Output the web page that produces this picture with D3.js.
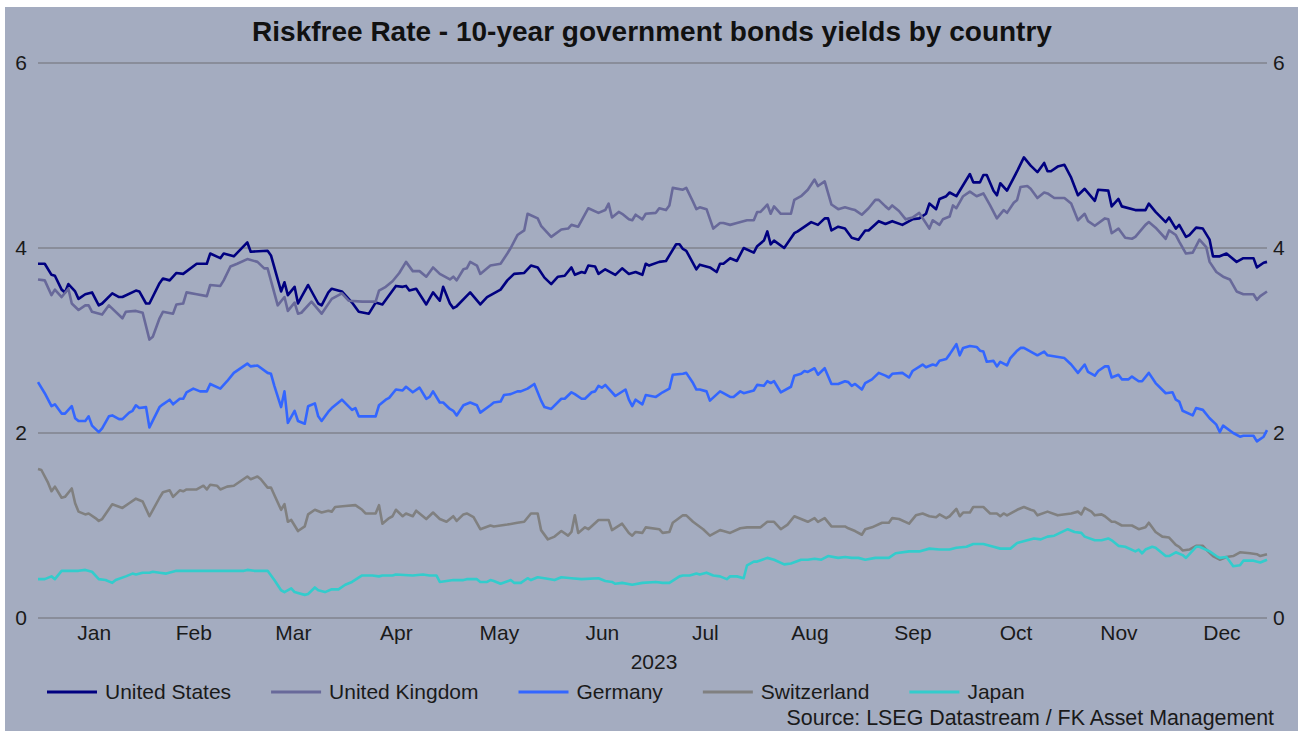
<!DOCTYPE html>
<html><head><meta charset="utf-8">
<script src="https://cdn.jsdelivr.net/npm/d3@7"></script>
<style>html,body{margin:0;padding:0;background:#fff;} svg{display:block;font-family:"Liberation Sans",Arial,sans-serif;}</style>
</head><body><svg id="c" width="1298" height="731"></svg>
<script>
const title = "Riskfree Rate - 10-year government bonds yields by country";
const sourceText = "Source: LSEG Datastream / FK Asset Management";
const seriesNames = ["United States","United Kingdom","Germany","Switzerland","Japan"];
const seriesColors = ["#000080","#68699a","#3366ff","#808080","#33cccc"];
const yTicks = [0,2,4,6];
const monthLabels = ["Jan","Feb","Mar","Apr","May","Jun","Jul","Aug","Sep","Oct","Nov","Dec"];
const yearLabel = "2023";
// [day of year 2023 (Jan 1 = 1), yield %]
const usData = [[0,3.83],[2,3.83],[4,3.71],[5,3.70],[7,3.55],[8,3.52],[9,3.61],[11,3.53],[12,3.45],[14,3.50],[16,3.52],[18,3.38],[19,3.40],[22,3.51],[24,3.47],[25,3.47],[29,3.54],[30,3.53],[32,3.40],[33,3.40],[36,3.62],[37,3.67],[39,3.65],[41,3.73],[43,3.72],[47,3.83],[50,3.83],[51,3.94],[54,3.89],[55,3.94],[58,3.91],[62,4.06],[63,3.96],[68,3.97],[69,3.92],[72,3.53],[73,3.63],[74,3.49],[76,3.58],[77,3.40],[78,3.47],[80,3.60],[83,3.40],[84,3.38],[86,3.52],[87,3.56],[90,3.53],[93,3.41],[95,3.31],[98,3.29],[100,3.41],[102,3.39],[106,3.59],[108,3.58],[109,3.59],[110,3.54],[112,3.56],[115,3.39],[117,3.52],[119,3.43],[120,3.58],[122,3.40],[123,3.35],[124,3.37],[128,3.52],[131,3.39],[133,3.47],[137,3.55],[139,3.65],[141,3.72],[144,3.73],[146,3.81],[148,3.79],[150,3.68],[152,3.61],[154,3.69],[156,3.70],[158,3.79],[159,3.71],[161,3.74],[162,3.73],[163,3.81],[165,3.80],[166,3.72],[168,3.77],[171,3.71],[173,3.78],[175,3.72],[177,3.74],[179,3.71],[180,3.83],[181,3.81],[184,3.85],[186,3.86],[187,3.92],[189,4.04],[190,4.04],[191,3.99],[192,3.97],[195,3.77],[196,3.82],[199,3.79],[201,3.74],[202,3.83],[203,3.83],[205,3.89],[207,3.86],[209,4.00],[212,3.95],[213,4.02],[215,4.08],[216,4.18],[217,4.04],[218,4.08],[221,4.00],[224,4.16],[225,4.18],[229,4.28],[231,4.25],[233,4.32],[234,4.32],[235,4.19],[237,4.23],[239,4.21],[241,4.11],[243,4.09],[245,4.19],[246,4.19],[249,4.29],[251,4.26],[253,4.29],[256,4.25],[259,4.31],[261,4.32],[263,4.37],[264,4.48],[266,4.42],[267,4.53],[269,4.56],[270,4.60],[272,4.56],[276,4.80],[277,4.71],[279,4.71],[280,4.79],[281,4.79],[283,4.62],[284,4.57],[285,4.70],[287,4.62],[290,4.83],[292,4.98],[294,4.89],[296,4.82],[298,4.92],[299,4.83],[300,4.83],[302,4.88],[304,4.90],[306,4.76],[308,4.57],[310,4.64],[313,4.51],[314,4.63],[317,4.62],[318,4.45],[320,4.53],[321,4.45],[325,4.41],[328,4.41],[329,4.48],[331,4.39],[334,4.28],[335,4.33],[337,4.21],[338,4.25],[340,4.12],[341,4.14],[343,4.22],[345,4.21],[347,4.09],[348,3.91],[350,3.91],[352,3.94],[355,3.85],[357,3.89],[360,3.89],[361,3.79],[363,3.84],[364,3.85]];
const ukData = [[0,3.66],[2,3.65],[4,3.49],[5,3.55],[7,3.47],[9,3.56],[10,3.40],[12,3.33],[14,3.38],[15,3.38],[16,3.31],[19,3.28],[21,3.38],[25,3.24],[26,3.31],[29,3.32],[31,3.30],[33,3.01],[34,3.04],[36,3.24],[37,3.31],[40,3.29],[41,3.39],[43,3.40],[44,3.52],[47,3.50],[50,3.48],[51,3.60],[54,3.59],[55,3.65],[57,3.80],[59,3.83],[62,3.88],[65,3.85],[67,3.78],[68,3.78],[71,3.38],[73,3.47],[74,3.32],[76,3.41],[77,3.29],[78,3.30],[81,3.42],[84,3.29],[87,3.45],[90,3.51],[92,3.43],[96,3.42],[100,3.42],[101,3.54],[103,3.58],[105,3.64],[107,3.73],[109,3.85],[111,3.75],[113,3.75],[115,3.69],[117,3.79],[119,3.72],[122,3.66],[123,3.69],[124,3.65],[126,3.77],[127,3.78],[128,3.85],[130,3.81],[131,3.72],[134,3.81],[137,3.83],[139,3.94],[140,4.00],[142,4.14],[144,4.19],[145,4.37],[148,4.32],[149,4.24],[152,4.12],[155,4.20],[157,4.21],[158,4.25],[160,4.23],[163,4.43],[166,4.38],[168,4.41],[169,4.48],[170,4.33],[172,4.39],[173,4.37],[175,4.31],[176,4.30],[177,4.36],[179,4.31],[180,4.37],[183,4.38],[184,4.43],[186,4.41],[187,4.46],[188,4.65],[191,4.63],[192,4.65],[194,4.50],[195,4.42],[196,4.44],[198,4.42],[200,4.21],[202,4.27],[203,4.27],[205,4.25],[207,4.27],[210,4.30],[212,4.30],[213,4.39],[214,4.39],[216,4.47],[217,4.37],[218,4.45],[220,4.37],[223,4.37],[224,4.52],[226,4.56],[228,4.63],[230,4.74],[231,4.67],[233,4.72],[235,4.47],[237,4.42],[239,4.44],[241,4.42],[242,4.41],[244,4.36],[246,4.43],[248,4.52],[249,4.52],[251,4.45],[252,4.42],[253,4.46],[255,4.40],[257,4.31],[259,4.33],[261,4.38],[264,4.21],[265,4.30],[267,4.25],[268,4.31],[270,4.34],[271,4.46],[272,4.43],[274,4.56],[276,4.61],[278,4.56],[280,4.59],[282,4.46],[284,4.32],[286,4.41],[287,4.38],[289,4.49],[290,4.52],[291,4.66],[293,4.67],[294,4.64],[296,4.54],[298,4.60],[299,4.59],[301,4.54],[304,4.54],[306,4.48],[308,4.30],[310,4.37],[311,4.29],[313,4.24],[316,4.32],[317,4.31],[318,4.16],[320,4.21],[322,4.11],[324,4.10],[325,4.12],[328,4.25],[329,4.28],[331,4.22],[334,4.10],[335,4.19],[337,4.14],[338,4.07],[340,3.94],[342,3.95],[344,4.09],[346,4.01],[347,3.85],[349,3.74],[351,3.69],[353,3.66],[355,3.53],[357,3.50],[360,3.50],[361,3.44],[362,3.48],[364,3.53]];
const deData = [[0,2.55],[2,2.43],[4,2.29],[5,2.31],[7,2.21],[8,2.21],[10,2.29],[11,2.16],[12,2.13],[14,2.13],[15,2.18],[16,2.08],[18,2.01],[19,2.05],[21,2.18],[22,2.19],[24,2.15],[25,2.15],[27,2.22],[28,2.24],[29,2.30],[30,2.27],[32,2.28],[33,2.06],[36,2.28],[37,2.31],[39,2.36],[40,2.31],[42,2.37],[43,2.37],[44,2.44],[46,2.48],[48,2.45],[50,2.45],[51,2.53],[54,2.48],[56,2.56],[58,2.65],[62,2.75],[63,2.72],[65,2.73],[68,2.65],[69,2.64],[70,2.51],[72,2.28],[73,2.45],[74,2.11],[76,2.24],[77,2.13],[79,2.10],[80,2.29],[82,2.32],[83,2.18],[84,2.13],[86,2.23],[87,2.27],[90,2.36],[93,2.25],[94,2.27],[95,2.18],[100,2.18],[101,2.30],[103,2.36],[104,2.38],[106,2.47],[108,2.46],[109,2.50],[111,2.44],[113,2.49],[115,2.37],[116,2.39],[117,2.45],[119,2.33],[120,2.33],[122,2.26],[123,2.24],[124,2.19],[126,2.30],[128,2.33],[130,2.30],[131,2.22],[134,2.30],[135,2.33],[137,2.34],[138,2.41],[140,2.42],[142,2.45],[143,2.45],[145,2.48],[147,2.53],[149,2.35],[150,2.28],[152,2.26],[155,2.37],[156,2.37],[158,2.44],[159,2.42],[161,2.37],[162,2.37],[164,2.44],[165,2.45],[166,2.51],[167,2.49],[168,2.52],[171,2.40],[174,2.47],[175,2.36],[176,2.29],[177,2.36],[179,2.31],[180,2.41],[183,2.39],[185,2.44],[187,2.48],[188,2.63],[191,2.64],[192,2.65],[194,2.54],[195,2.47],[196,2.47],[198,2.45],[199,2.35],[202,2.45],[203,2.43],[205,2.39],[206,2.39],[208,2.45],[209,2.43],[212,2.46],[213,2.52],[215,2.51],[216,2.56],[217,2.54],[218,2.56],[220,2.44],[223,2.50],[224,2.62],[226,2.64],[227,2.67],[228,2.66],[230,2.70],[231,2.63],[233,2.70],[235,2.53],[237,2.53],[239,2.56],[240,2.55],[241,2.51],[242,2.53],[244,2.47],[245,2.54],[247,2.58],[249,2.65],[251,2.62],[252,2.60],[253,2.64],[256,2.65],[258,2.60],[259,2.67],[262,2.74],[263,2.71],[265,2.74],[266,2.73],[267,2.78],[269,2.80],[270,2.85],[272,2.96],[273,2.84],[274,2.92],[276,2.94],[278,2.93],[279,2.89],[280,2.88],[281,2.77],[283,2.78],[284,2.72],[285,2.77],[287,2.73],[288,2.81],[290,2.89],[291,2.92],[292,2.92],[294,2.88],[296,2.84],[298,2.88],[299,2.84],[304,2.81],[306,2.74],[308,2.65],[310,2.74],[311,2.66],[313,2.62],[314,2.67],[316,2.72],[317,2.72],[318,2.60],[320,2.63],[321,2.58],[323,2.58],[324,2.61],[326,2.56],[327,2.56],[329,2.65],[331,2.54],[334,2.43],[336,2.44],[337,2.36],[338,2.34],[339,2.24],[342,2.19],[343,2.27],[345,2.25],[347,2.16],[349,2.09],[350,2.01],[351,2.08],[354,2.00],[356,1.96],[357,1.97],[360,1.97],[361,1.91],[363,1.96],[364,2.03]];
const chData = [[0,1.61],[1,1.60],[3,1.46],[4,1.37],[5,1.42],[7,1.30],[8,1.31],[10,1.40],[11,1.24],[12,1.15],[14,1.12],[15,1.13],[17,1.08],[18,1.05],[19,1.07],[22,1.23],[25,1.19],[27,1.24],[29,1.29],[31,1.26],[33,1.10],[36,1.30],[37,1.36],[39,1.38],[40,1.31],[42,1.38],[43,1.37],[44,1.39],[47,1.39],[49,1.43],[50,1.39],[51,1.44],[53,1.43],[54,1.39],[56,1.42],[58,1.43],[62,1.53],[63,1.50],[65,1.53],[66,1.50],[68,1.41],[69,1.41],[70,1.33],[72,1.17],[73,1.23],[74,1.04],[75,1.06],[77,0.94],[79,0.99],[80,1.12],[82,1.17],[84,1.14],[86,1.16],[87,1.15],[88,1.20],[91,1.21],[94,1.22],[96,1.17],[97,1.13],[100,1.13],[101,1.22],[102,1.02],[104,1.08],[105,1.10],[106,1.17],[108,1.10],[109,1.13],[111,1.10],[112,1.16],[115,1.07],[117,1.14],[119,1.07],[121,1.04],[123,1.10],[124,1.05],[126,1.12],[127,1.13],[129,1.09],[131,0.96],[134,1.00],[135,0.99],[137,1.00],[139,1.01],[142,1.03],[144,1.04],[146,1.13],[148,1.13],[149,0.95],[151,0.85],[153,0.88],[155,0.94],[157,0.89],[158,0.93],[159,1.11],[160,0.92],[162,0.98],[163,0.96],[166,1.06],[169,1.06],[170,0.95],[173,1.02],[175,0.92],[176,0.89],[177,0.93],[179,0.92],[180,0.98],[184,0.96],[185,0.92],[187,0.93],[188,1.03],[191,1.11],[192,1.11],[194,1.04],[197,0.96],[199,0.89],[202,0.95],[203,0.94],[205,0.92],[208,0.97],[210,0.98],[214,0.98],[216,1.04],[218,1.04],[220,0.96],[222,1.01],[224,1.10],[226,1.07],[228,1.04],[230,1.08],[231,1.04],[233,1.08],[235,0.99],[237,0.99],[239,0.99],[240,0.97],[242,0.94],[244,0.90],[245,0.96],[247,0.98],[250,1.03],[252,1.03],[253,1.08],[255,1.07],[258,1.02],[260,1.11],[262,1.13],[264,1.10],[266,1.09],[267,1.12],[269,1.08],[270,1.10],[272,1.18],[273,1.10],[274,1.14],[276,1.14],[277,1.20],[280,1.20],[282,1.13],[284,1.13],[285,1.10],[286,1.13],[287,1.11],[290,1.17],[292,1.20],[294,1.17],[295,1.16],[296,1.11],[299,1.15],[302,1.11],[306,1.13],[308,1.15],[309,1.12],[310,1.19],[312,1.15],[313,1.11],[315,1.12],[316,1.10],[318,1.04],[319,1.04],[321,1.00],[324,1.00],[326,0.96],[328,0.98],[329,1.03],[331,0.93],[333,0.88],[335,0.87],[337,0.79],[338,0.77],[339,0.73],[341,0.74],[343,0.78],[345,0.78],[346,0.74],[348,0.67],[350,0.63],[352,0.66],[354,0.67],[356,0.71],[359,0.70],[361,0.69],[362,0.67],[364,0.69]];
const jpData = [[0,0.42],[2,0.42],[4,0.45],[5,0.42],[7,0.51],[12,0.51],[14,0.52],[16,0.50],[18,0.42],[20,0.41],[22,0.38],[23,0.41],[26,0.45],[28,0.48],[29,0.47],[31,0.49],[33,0.49],[34,0.50],[36,0.49],[38,0.48],[41,0.51],[61,0.51],[62,0.52],[64,0.51],[68,0.51],[70,0.41],[72,0.30],[73,0.28],[75,0.32],[76,0.28],[77,0.27],[79,0.25],[80,0.26],[82,0.33],[83,0.30],[85,0.28],[87,0.31],[89,0.31],[91,0.36],[93,0.39],[96,0.46],[99,0.46],[101,0.45],[102,0.46],[105,0.46],[106,0.47],[111,0.46],[114,0.47],[116,0.46],[118,0.46],[119,0.39],[123,0.41],[126,0.41],[127,0.42],[130,0.42],[131,0.39],[133,0.39],[134,0.41],[135,0.40],[137,0.37],[140,0.41],[141,0.38],[143,0.38],[145,0.43],[146,0.41],[148,0.44],[150,0.43],[153,0.41],[155,0.44],[158,0.43],[161,0.42],[166,0.43],[168,0.40],[170,0.39],[171,0.37],[173,0.38],[176,0.36],[179,0.38],[183,0.39],[185,0.38],[187,0.38],[190,0.45],[191,0.46],[193,0.46],[195,0.48],[196,0.47],[198,0.49],[200,0.46],[202,0.45],[204,0.42],[205,0.45],[207,0.45],[209,0.43],[210,0.57],[212,0.61],[213,0.61],[216,0.65],[218,0.63],[221,0.58],[223,0.59],[226,0.63],[228,0.63],[230,0.64],[232,0.63],[234,0.67],[237,0.65],[239,0.66],[241,0.65],[243,0.65],[245,0.63],[248,0.65],[250,0.65],[252,0.65],[254,0.70],[258,0.72],[261,0.72],[264,0.75],[267,0.74],[270,0.74],[272,0.76],[275,0.77],[277,0.80],[280,0.80],[283,0.77],[285,0.75],[288,0.75],[290,0.81],[293,0.84],[295,0.86],[297,0.85],[299,0.88],[301,0.89],[305,0.96],[307,0.93],[309,0.92],[310,0.88],[313,0.84],[315,0.84],[317,0.86],[318,0.84],[320,0.78],[322,0.77],[325,0.72],[326,0.74],[327,0.70],[328,0.74],[330,0.77],[331,0.76],[334,0.67],[335,0.67],[337,0.71],[339,0.68],[340,0.65],[343,0.77],[344,0.77],[347,0.72],[349,0.67],[350,0.65],[352,0.66],[354,0.56],[356,0.57],[357,0.62],[360,0.62],[362,0.60],[364,0.63]];
const allSeries = [usData, ukData, deData, chData, jpData];

const W = 1298, H = 731;
const svg = d3.select("#c");
const FS = 21;
const dateOf = d => new Date(2023, 0, d[0]);

svg.append("rect").attr("x",5).attr("y",7).attr("width",W-5).attr("height",H-7).attr("fill","#a4acc0");

const x = d3.scaleTime().domain([new Date(2023,0,0), new Date(2023,0,364)]).range([38,1267]);
const y = d3.scaleLinear().domain([0,6]).range([618,63]);

// gridlines
svg.append("g").selectAll("line").data(yTicks).join("line")
  .attr("x1",x.range()[0]).attr("x2",x.range()[1])
  .attr("y1",d=>y(d)).attr("y2",d=>y(d))
  .attr("stroke","#6e6e74").attr("stroke-width",1.2);

const axL = svg.append("g").attr("transform",`translate(${x.range()[0]},0)`)
  .call(d3.axisLeft(y).tickValues(yTicks).tickSize(0).tickPadding(11).tickFormat(d3.format("d")));
const axR = svg.append("g").attr("transform",`translate(${x.range()[1]},0)`)
  .call(d3.axisRight(y).tickValues(yTicks).tickSize(0).tickPadding(6).tickFormat(d3.format("d")));

const months = d3.timeMonth.range(new Date(2023,0,1), new Date(2024,0,1));
const mids = months.map(m => new Date((+m + +d3.timeMonth.offset(m,1))/2));
const axB = svg.append("g").attr("transform",`translate(0,${y(0)})`)
  .call(d3.axisBottom(x).tickValues(mids).tickSize(0).tickPadding(7).tickFormat((d,i)=>monthLabels[i]));

[axL,axR,axB].forEach(a=>{
  a.select(".domain").remove();
  a.selectAll("text").attr("font-size",FS).attr("fill","#1a1a1a").attr("font-family","Liberation Sans, Arial, sans-serif");
});

svg.append("text").attr("x",654).attr("y",669).attr("text-anchor","middle")
  .attr("font-size",FS).attr("fill","#1a1a1a").text(yearLabel);

// lines
const line = d3.line().x(d=>x(dateOf(d))).y(d=>y(d[1]));
svg.append("g").selectAll("path").data(allSeries).join("path")
  .attr("d",line).attr("fill","none")
  .attr("stroke",(d,i)=>seriesColors[i]).attr("stroke-width",2.6)
  .attr("stroke-linejoin","round");

// title
svg.append("text").attr("x",652).attr("y",41).attr("text-anchor","middle")
  .attr("font-size",28).attr("font-weight","bold").attr("fill","#111").text(title);

// legend
const lg = svg.append("g");
let lx = 47;
seriesNames.forEach((n,i)=>{
  lg.append("line").attr("x1",lx).attr("x2",lx+50).attr("y1",692).attr("y2",692)
    .attr("stroke",seriesColors[i]).attr("stroke-width",3);
  const t = lg.append("text").attr("x",lx+58).attr("y",699).attr("font-size",FS).attr("fill","#1a1a1a").text(n);
  lx = lx + 58 + t.node().getComputedTextLength() + 40;
});

svg.append("text").attr("x",1274).attr("y",725).attr("text-anchor","end")
  .attr("font-size",21.4).attr("fill","#1a1a1a").text(sourceText);
</script>
</body></html>
